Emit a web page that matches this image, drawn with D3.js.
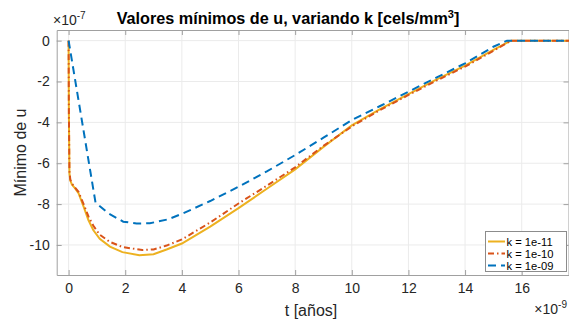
<!DOCTYPE html>
<html>
<head>
<meta charset="utf-8">
<script src="https://cdn.jsdelivr.net/npm/d3@7"></script>
<style>
  body { margin: 0; background: #fff; }
  text { font-family: "Liberation Sans", Arial, Helvetica, sans-serif; }
</style>
</head>
<body>
<div id="chart"></div>
<script>
const WIDTH = 569
const HEIGHT = 323

// valores en unidades de 1e-9 (t) y 1e-7 (u)
const tK11 = [0, 0.01, 0.03, 0.06, 0.12, 0.23, 0.35, 0.53, 0.7, 0.87, 1.1, 1.46, 1.9, 2.5, 3.0, 3.46, 4, 5, 6, 7, 8, 9, 10, 11, 12, 13, 14, 15, 15.62, 16, 17, 17.8]
const uK11 = [0, -3.5, -6.5, -6.85, -7.05, -7.23, -7.47, -8.12, -8.78, -9.27, -9.7, -10.08, -10.35, -10.5, -10.45, -10.22, -9.93, -9.1, -8.2, -7.25, -6.3, -5.2, -4.15, -3.35, -2.62, -1.9, -1.22, -0.45, 0, 0, 0, 0]

const tK10 = [0, 0.01, 0.03, 0.06, 0.12, 0.23, 0.35, 0.53, 0.7, 0.87, 1.1, 1.46, 1.9, 2.6, 3.0, 3.46, 4, 5, 6, 7, 8, 9, 10, 11, 12, 13, 14, 15, 15.62, 16, 17, 17.8]
const uK10 = [0, -3.5, -6.4, -6.8, -7.0, -7.2, -7.4, -8.0, -8.6, -9.05, -9.5, -9.85, -10.1, -10.25, -10.22, -10.03, -9.73, -8.9, -7.97, -7.1, -6.2, -5.15, -4.2, -3.4, -2.66, -1.95, -1.27, -0.5, 0, 0, 0, 0]

const tK09 = [0, 0.95, 1.4, 1.93, 2.4, 2.87, 3.5, 4.05, 5, 6, 7, 8, 9, 10, 11, 12, 13, 14, 15, 15.48, 16, 17, 17.8]
const uK09 = [0, -7.92, -8.45, -8.86, -8.95, -8.94, -8.75, -8.45, -7.85, -7.15, -6.4, -5.6, -4.75, -3.89, -3.2, -2.5, -1.8, -1.11, -0.3, 0, 0, 0, 0]

const seriesNames = ["k = 1e-11", "k = 1e-10", "k = 1e-09"]
const seriesColors = ["#EDB120", "#D95319", "#0072BD"]
const seriesDash = [null, "6,3,1.5,3", "8,5"]

const xTicks = [0, 2, 4, 6, 8, 10, 12, 14, 16]
const yTicks = [0, -2, -4, -6, -8, -10]

const mLeft = 56.7, mRight = 569, mTop = 30, mBottom = 275

const x = d3.scaleLinear().domain([-0.42, 17.67]).range([mLeft, mRight])
const y = d3.scaleLinear().domain([-11.47, 0.52]).range([mBottom, mTop])

const svg = d3.select("#chart")
  .append("svg")
  .attr("width", WIDTH)
  .attr("height", HEIGHT)

svg.append("defs").append("clipPath").attr("id", "clip")
  .append("rect")
  .attr("x", mLeft).attr("y", mTop)
  .attr("width", mRight - mLeft).attr("height", mBottom - mTop)

// rejilla
svg.append("g").selectAll("line").data(xTicks).join("line")
  .attr("x1", d => x(d)).attr("x2", d => x(d))
  .attr("y1", mTop).attr("y2", mBottom)
  .attr("stroke", "#ebebeb").attr("stroke-width", 1)
svg.append("g").selectAll("line").data(yTicks).join("line")
  .attr("x1", mLeft).attr("x2", mRight)
  .attr("y1", d => y(d)).attr("y2", d => y(d))
  .attr("stroke", "#ebebeb").attr("stroke-width", 1)

// ejes
const xAxis = svg.append("g")
  .attr("transform", `translate(0,${mBottom})`)
  .call(d3.axisBottom(x).tickValues(xTicks).tickSize(-5).tickPadding(8).tickSizeOuter(0))
const xAxisTop = svg.append("g")
  .attr("transform", `translate(0,${mTop})`)
  .call(d3.axisTop(x).tickValues(xTicks).tickSize(-5).tickFormat("").tickSizeOuter(0))
const yAxis = svg.append("g")
  .attr("transform", `translate(${mLeft},0)`)
  .call(d3.axisLeft(y).tickValues(yTicks).tickSize(-5).tickPadding(7).tickSizeOuter(0))
const yAxisRight = svg.append("g")
  .attr("transform", `translate(${mRight - 0.5},0)`)
  .call(d3.axisRight(y).tickValues(yTicks).tickSize(-5).tickFormat("").tickSizeOuter(0))

for (const g of [xAxis, xAxisTop, yAxis, yAxisRight]) {
  g.select(".domain").attr("stroke", "#a0a0a0")
  g.selectAll(".tick line").attr("stroke", "#a0a0a0")
  g.selectAll(".tick text")
    .attr("fill", "#262626")
    .style("font-size", "14px")
    .style("font-family", '"Liberation Sans", Arial, sans-serif')
}
yAxis.selectAll(".tick text").text(d => d === 0 ? "0" : "-" + Math.abs(d))

// curvas
const line = d3.line().x(d => x(d[0])).y(d => y(d[1]))
const series = [
  d3.zip(tK11, uK11),
  d3.zip(tK10, uK10),
  d3.zip(tK09, uK09)
]
const plot = svg.append("g").attr("clip-path", "url(#clip)")
series.forEach((s, i) => {
  plot.append("path")
    .datum(s)
    .attr("d", line)
    .attr("fill", "none")
    .attr("stroke", seriesColors[i])
    .attr("stroke-width", 2)
    .attr("stroke-dasharray", seriesDash[i])
})

// leyenda
const legend = svg.append("g")
legend.append("rect")
  .attr("x", 485.5).attr("y", 231.5)
  .attr("width", 81).attr("height", 40)
  .attr("fill", "#fff").attr("stroke", "#8c8c8c").attr("stroke-width", 1)
seriesNames.forEach((n, i) => {
  const ly = 241.5 + i * 12
  legend.append("line")
    .attr("x1", 488).attr("x2", 505)
    .attr("y1", ly).attr("y2", ly)
    .attr("stroke", seriesColors[i]).attr("stroke-width", 2)
    .attr("stroke-dasharray", seriesDash[i])
  legend.append("text")
    .attr("x", 506.5).attr("y", ly + 4)
    .style("font-size", "11.2px")
    .attr("fill", "#000")
    .text(n)
})

// textos
svg.append("text")
  .attr("x", 288).attr("y", 24)
  .attr("text-anchor", "middle")
  .style("font-size", "16.2px").style("font-weight", "bold")
  .attr("fill", "#000")
  .call(t => {
    t.append("tspan").text("Valores mínimos de u, variando k [cels/mm")
    t.append("tspan").attr("dy", -6).style("font-size", "11px").text("3")
    t.append("tspan").attr("dy", 6).text("]")
  })

svg.append("text")
  .attr("x", 53).attr("y", 25)
  .attr("fill", "#262626").style("font-size", "14px")
  .call(t => {
    t.append("tspan").text("×10")
    t.append("tspan").attr("dy", -6).style("font-size", "10px").text("-7")
  })

svg.append("text")
  .attr("x", 567).attr("y", 314)
  .attr("text-anchor", "end")
  .attr("fill", "#262626").style("font-size", "14px")
  .call(t => {
    t.append("tspan").text("×10")
    t.append("tspan").attr("dy", -6).style("font-size", "10px").text("-9")
  })

svg.append("text")
  .attr("x", 311).attr("y", 316)
  .attr("text-anchor", "middle")
  .attr("fill", "#262626").style("font-size", "16px")
  .text("t [años]")

svg.append("text")
  .attr("transform", `translate(26,${(mTop + mBottom) / 2}) rotate(-90)`)
  .attr("text-anchor", "middle")
  .attr("fill", "#262626").style("font-size", "16px")
  .text("Mínimo de u")
</script>
</body>
</html>
